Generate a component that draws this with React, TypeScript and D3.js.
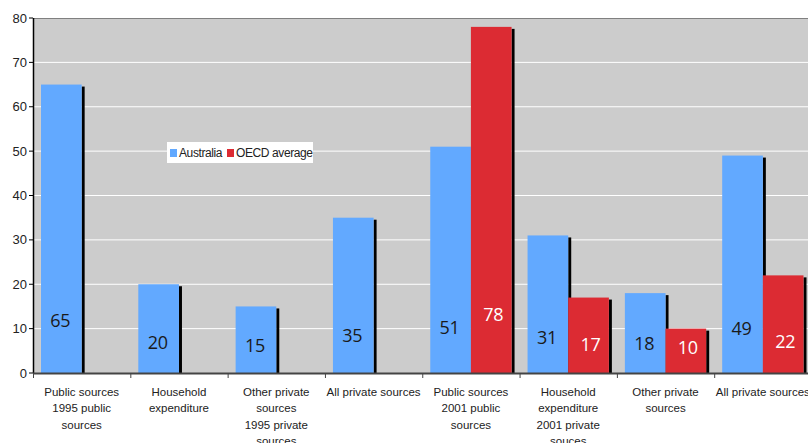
import React from "react";
import * as d3 from "d3";

// Funding sources, share of total (%)
const categories: string[][] = [
  ["Public sources", "1995 public", "sources"],
  ["Household", "expenditure"],
  ["Other private", "sources", "1995 private", "sources"],
  ["All private sources"],
  ["Public sources", "2001 public", "sources"],
  ["Household", "expenditure", "2001 private", "souces"],
  ["Other private", "sources"],
  ["All private sources"],
];
const seriesNames = ["Australia", "OECD average"];
const australia: (number | null)[] = [65, 20, 15, 35, 51, 31, 18, 49];
const oecd: (number | null)[] = [null, null, null, null, 78, 17, 10, 22];
const yTicks = [0, 10, 20, 30, 40, 50, 60, 70, 80];

const colors = ["#62A9FF", "#DC2B33"];
const labelColors = ["#1a1a1a", "#ffffff"];

const W = 808;
const H = 443;
const left = 33;
const right = 811.5;
const top = 18;
const bottom = 373;

export default function App() {
  const keys = categories.map((_, i) => String(i));
  const x = d3.scaleBand<string>().domain(keys).range([left, right]).paddingInner(0).paddingOuter(0);
  const bw = x.bandwidth();
  const xs = d3.scaleBand<string>().domain(["0", "1"]).range([8, bw - 8]).padding(0);
  const y = d3.scaleLinear().domain([0, 80]).range([bottom, top]);
  const series = [australia, oecd];
  const font = "'Liberation Sans', Arial, sans-serif";

  return (
    <svg
      width={W}
      height={H}
      style={{ position: "absolute", left: 0, top: 0, background: "#fff" }}
      fontFamily={font}
    >
      <rect x={left} y={top} width={right - left} height={bottom - top} fill="#CCCCCC" />
      {yTicks.slice(1, -1).map((t) => (
        <line key={t} x1={left} x2={right} y1={y(t)} y2={y(t)} stroke="#ffffff" strokeWidth={1} />
      ))}
      <line x1={left} x2={right} y1={y(80) + 0.5} y2={y(80) + 0.5} stroke="#808080" strokeWidth={1} />

      {series.map((vals, s) =>
        vals.map((v, i) => {
          if (v == null) return null;
          const bx = x(String(i))! + xs(String(s))!;
          const w = xs.bandwidth();
          return (
            <g key={`b${s}-${i}`}>
              <rect x={bx + w} y={y(v) + 2} width={3} height={bottom - y(v) - 2} fill="#000" />
              <rect x={bx} y={y(v)} width={w} height={bottom - y(v)} fill={colors[s]} />
            </g>
          );
        })
      )}

      {series.map((vals, s) =>
        vals.map((v, i) => {
          if (v == null) return null;
          const cx = x(String(i))! + xs(String(s))! + xs.bandwidth() / 2 + (s === 1 ? 2 : -1);
          return (
            <text
              key={`l${s}-${i}`}
              x={cx}
              y={y(4.6 + v * 0.11)}
              dy="0.35em"
              textAnchor="middle"
              fontSize={18}
              fill={labelColors[s]}
              fontFamily="'Open Sans', sans-serif"
              letterSpacing={-0.3}
            >
              {v}
            </text>
          );
        })
      )}

      {/* y axis */}
      <line x1={left + 0.5} x2={left + 0.5} y1={top} y2={bottom} stroke="#000" strokeWidth={1.5} />
      {yTicks.map((t) => (
        <g key={`t${t}`}>
          <line x1={left - 4} x2={left} y1={y(t)} y2={y(t)} stroke="#000" />
          <text x={left - 6} y={y(t)} dy="0.35em" textAnchor="end" fontSize={13} fill="#222">
            {t}
          </text>
        </g>
      ))}

      {/* x axis */}
      <line x1={left} x2={right} y1={bottom + 0.5} y2={bottom + 0.5} stroke="#444" strokeWidth={2} />
      {keys.map((k) => (
        <line key={`xt${k}`} x1={x(k)! + 0.5} x2={x(k)! + 0.5} y1={bottom} y2={bottom + 5} stroke="#444" />
      ))}
      {categories.map((lines, i) => (
        <text
          key={`c${i}`}
          x={x(String(i))! + bw / 2}
          y={392}
          textAnchor="middle"
          fontSize={11.5}
          fill="#222"
        >
          {lines.map((ln, j) => (
            <tspan key={j} x={x(String(i))! + bw / 2} dy={j === 0 ? "0.35em" : 16.3}>
              {ln}
            </tspan>
          ))}
        </text>
      ))}

      {/* legend */}
      <g transform="translate(167,142)">
        <rect x={0} y={0} width={146} height={21} fill="#fff" />
        <rect x={3} y={7} width={7} height={8} fill={colors[0]} />
        <text x={12} y={11} dy="0.35em" fontSize={12} fill="#222" letterSpacing={-0.4}>
          {seriesNames[0]}
        </text>
        <rect x={60} y={7} width={7} height={8} fill={colors[1]} />
        <text x={69} y={11} dy="0.35em" fontSize={12} fill="#222" letterSpacing={-0.4}>
          {seriesNames[1]}
        </text>
      </g>
    </svg>
  );
}
